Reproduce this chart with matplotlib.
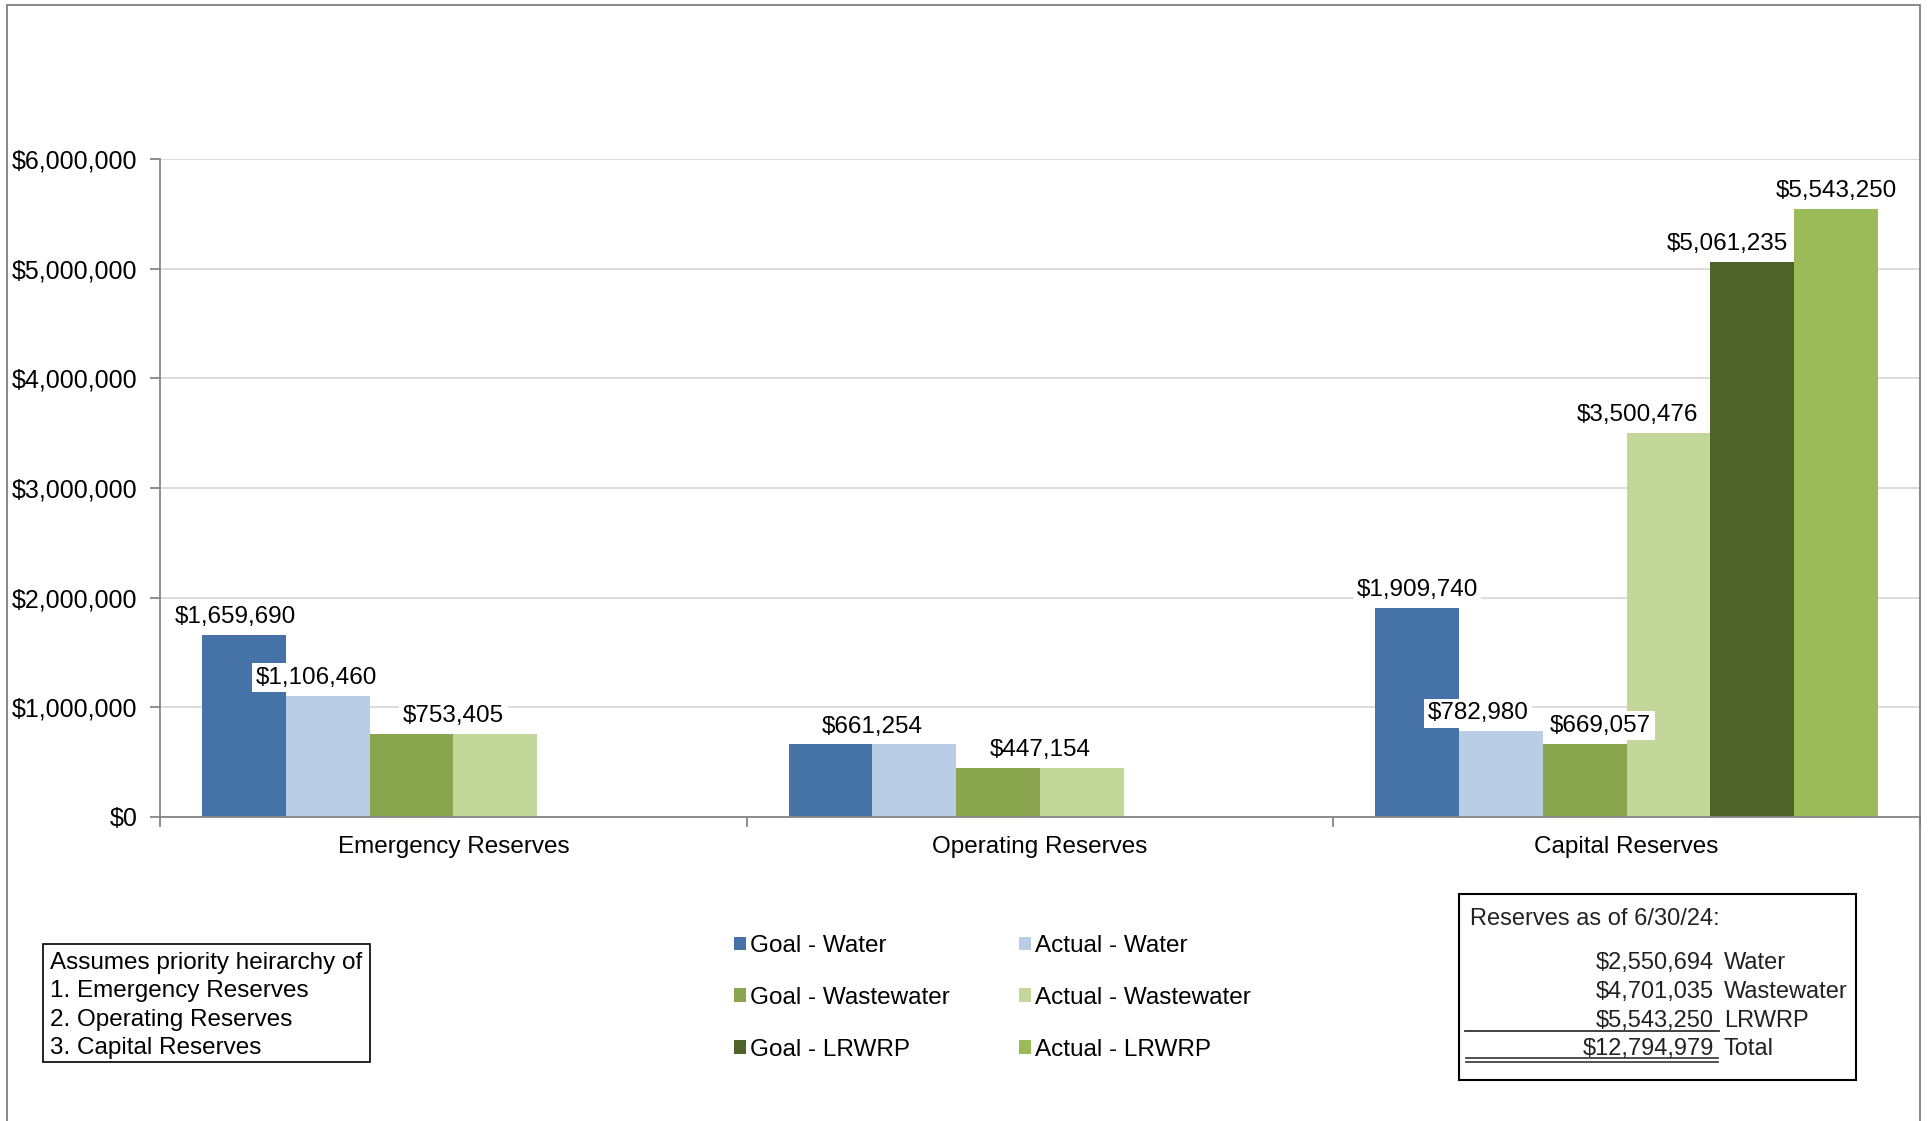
import matplotlib.pyplot as plt
import numpy as np
from matplotlib.patches import Rectangle, Patch
from matplotlib.lines import Line2D
from matplotlib.ticker import FuncFormatter, MultipleLocator

plt.rcParams['font.family'] = ['Liberation Sans', 'DejaVu Sans']

# dados do grafico
categorias = ['Emergency Reserves', 'Operating Reserves', 'Capital Reserves']
series = ['Goal - Water', 'Actual - Water', 'Goal - Wastewater',
          'Actual - Wastewater', 'Goal - LRWRP', 'Actual - LRWRP']
goal_water = [1659690, 661254, 1909740]
actual_water = [1106460, 661254, 782980]
goal_wastewater = [753405, 447154, 669057]
actual_wastewater = [753405, 447154, 3500476]
goal_lrwrp = [0, 0, 5061235]
actual_lrwrp = [0, 0, 5543250]
cores = ['#4572A7', '#B9CDE5', '#89A54E', '#C4D79B', '#4F6228', '#9BBB59']

# caixa de reservas
reservas_valores = [2550694, 4701035, 5543250]
reservas_nomes = ['Water', 'Wastewater', 'LRWRP']
reservas_total = 12794979

prioridades = ['Assumes priority heirarchy of', '1. Emergency Reserves',
               '2. Operating Reserves', '3. Capital Reserves']

# deslocamento dos rotulos (pixels), como o excel afasta rotulos sobrepostos
desloc_rotulo = {(0, 0): -8, (0, 1): -11, (2, 1): -23, (2, 2): 16, (2, 3): -31, (2, 4): -25}

W, H = 1929, 1121


def fx(px):
    return px / W


def fy(py):
    return 1 - py / H


def dinheiro(v):
    return '${:,.0f}'.format(v)


def main():
    valores = [goal_water, actual_water, goal_wastewater,
               actual_wastewater, goal_lrwrp, actual_lrwrp]

    fig = plt.figure(figsize=(W / 100, H / 100), dpi=100)
    ax = fig.add_axes([fx(160), fy(817), fx(1920) - fx(160), fy(159) - fy(817)])

    x = np.arange(len(categorias))
    largura = 1 / 7
    for i, (nome, vals) in enumerate(zip(series, valores)):
        ax.bar(x + (i - 2.5) * largura, vals, largura, color=cores[i],
               label=nome, zorder=2, linewidth=0)

    # rotulos - quando meta == realizado, um unico rotulo entre as barras
    fs = 17.5
    caixa = dict(boxstyle='square,pad=0.15', facecolor='white', edgecolor='none')

    def rotulo(xv, v, dx=0):
        ax.annotate(dinheiro(v), (xv, v), xytext=(dx * 0.72, 5),
                    textcoords='offset points', ha='center', va='bottom',
                    fontsize=fs, bbox=caixa, zorder=3)

    for k in range(len(categorias)):
        for par in range(3):
            ig, ia = 2 * par, 2 * par + 1
            g = valores[ig][k]
            a = valores[ia][k]
            xg = x[k] + (ig - 2.5) * largura
            xa = x[k] + (ia - 2.5) * largura
            if g == a:
                if g > 0:
                    rotulo((xg + xa) / 2, g)
                continue
            for idx, xv, v in ((ig, xg, g), (ia, xa, a)):
                if v > 0:
                    rotulo(xv, v, desloc_rotulo.get((k, idx), 0))

    ax.set_xlim(-0.5, 2.5)
    ax.set_ylim(0, 6000000)
    ax.yaxis.set_major_locator(MultipleLocator(1000000))
    ax.yaxis.set_major_formatter(FuncFormatter(lambda v, p: dinheiro(v)))
    ax.grid(axis='y', color='#D9D9D9', linewidth=1.3, zorder=0)
    ax.set_axisbelow(True)
    ax.set_xticks(x)
    ax.set_xticklabels(categorias, fontsize=fs)
    ax.set_xticks([-0.5, 0.5, 1.5, 2.5], minor=True)
    ax.tick_params(axis='x', which='major', length=0, pad=14)
    ax.tick_params(axis='x', which='minor', length=7, color='#868686', width=1.3)
    ax.tick_params(axis='y', labelsize=18, length=7, color='#868686', width=1.3, pad=9)
    for s in ['top', 'right']:
        ax.spines[s].set_visible(False)
    for s in ['left', 'bottom']:
        ax.spines[s].set_color('#868686')
        ax.spines[s].set_linewidth(1.3)

    # legenda
    ordem = [0, 2, 4, 1, 3, 5]
    handles = [Patch(facecolor=cores[i], edgecolor='none') for i in ordem]
    fig.legend(handles, [series[i] for i in ordem], ncol=2, frameon=False,
               loc='upper left', bbox_to_anchor=(fx(722), fy(923)),
               fontsize=fs, handlelength=0.5, handleheight=0.5,
               handletextpad=0.15, labelspacing=1.23, columnspacing=2.85,
               borderpad=0)

    # caixa de prioridades
    fig.patches.append(Rectangle((fx(43), fy(1062)), fx(370) - fx(43),
                                 fy(944) - fy(1062), transform=fig.transFigure,
                                 facecolor='white', edgecolor='black', linewidth=1.2))
    for j, linha in enumerate(prioridades):
        fig.text(fx(50), fy(963 + j * 28.3), linha, fontsize=fs, va='center')

    # caixa de reservas
    fig.patches.append(Rectangle((fx(1459), fy(1080)), fx(1856) - fx(1459),
                                 fy(894) - fy(1080), transform=fig.transFigure,
                                 facecolor='white', edgecolor='black', linewidth=1.5))
    fig.text(fx(1470), fy(919), 'Reserves as of 6/30/24:', fontsize=fs - 0.5, va='center',
             color='#222222')
    linhas = [dinheiro(v) for v in reservas_valores] + [dinheiro(reservas_total)]
    nomes = reservas_nomes + ['Total']
    for j, (v, n) in enumerate(zip(linhas, nomes)):
        yy = fy(963 + j * 28.8)
        fig.text(fx(1714), yy, v, fontsize=fs - 0.5, va='center', ha='right', color='#222222')
        fig.text(fx(1724), yy, n, fontsize=fs - 0.5, va='center', color='#222222')
    fig.lines.append(Line2D([fx(1465), fx(1719)], [fy(1031), fy(1031)],
                            transform=fig.transFigure, color='#333333', linewidth=1.3))
    for yl in (1058, 1062):
        fig.lines.append(Line2D([fx(1466), fx(1718)], [fy(yl), fy(yl)],
                                transform=fig.transFigure, color='#333333', linewidth=1.2))

    # borda do grafico
    fig.patches.append(Rectangle((fx(7), fy(1130)), fx(1920) - fx(7), fy(5) - fy(1130),
                                 transform=fig.transFigure, facecolor='none',
                                 edgecolor='#7F7F7F', linewidth=1.3, clip_on=False))

    fig.savefig('out.png', dpi=100)


if __name__ == "__main__":
    main()
